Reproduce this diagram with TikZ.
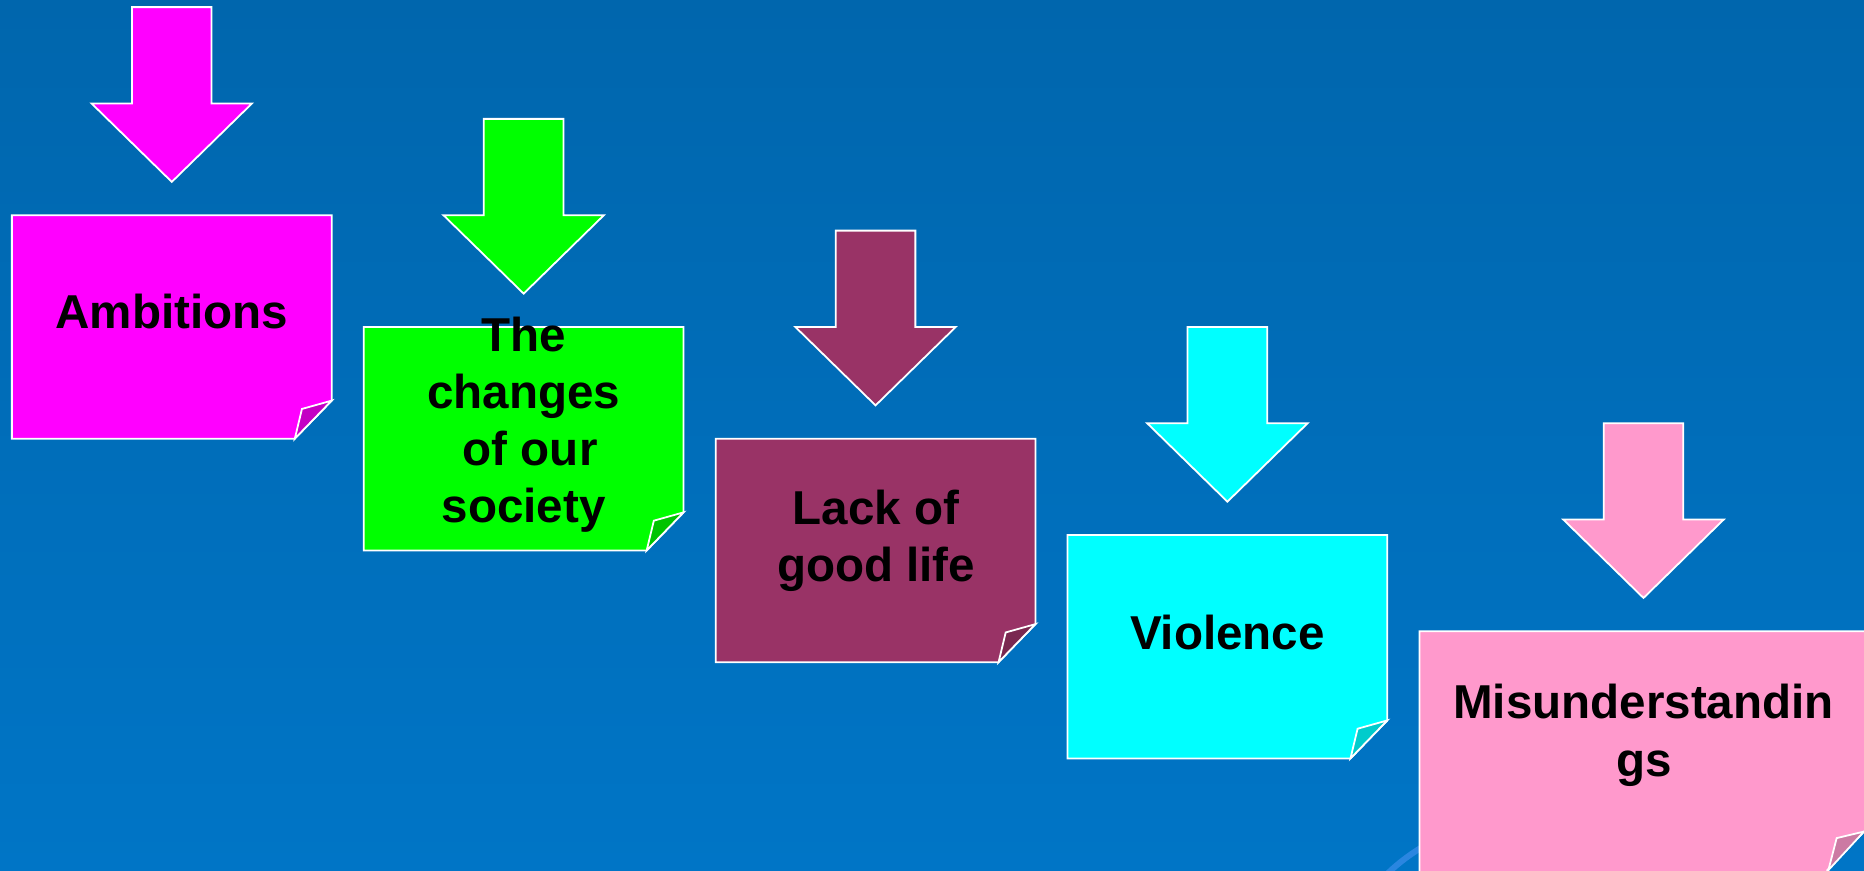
\documentclass[tikz,border=0pt]{standalone}
\usepackage{fontspec}
\setmainfont{Liberation Sans}
\definecolor{bgtop}{HTML}{0066AD}
\definecolor{bgbot}{HTML}{0075C6}
\definecolor{swirlc}{HTML}{2A86E0}
\definecolor{cmag}{HTML}{FF00FF}
\definecolor{cmagd}{HTML}{C400C4}
\definecolor{cgrn}{HTML}{00FF00}
\definecolor{cgrnd}{HTML}{00C400}
\definecolor{cmar}{HTML}{993366}
\definecolor{cmard}{HTML}{7A2850}
\definecolor{ccya}{HTML}{00FFFF}
\definecolor{ccyad}{HTML}{00CCCC}
\definecolor{cpnk}{HTML}{FF99CC}
\definecolor{cpnkd}{HTML}{CC7AA3}
\tikzset{
  outl/.style={draw=white, line width=1.5pt, line join=miter},
  lbl/.style={anchor=base, inner sep=0pt, font=\bfseries\fontsize{40}{48}\selectfont, text=black},
}
% down arrow: centre x, top y, fill
\newcommand\dnarrow[3]{%
  \path[outl, fill=#3] (#1-33.5,#2) -- (#1+33.5,#2) -- (#1+33.5,#2+81) -- (#1+67.5,#2+81)
    -- (#1,#2+147) -- (#1-67.5,#2+81) -- (#1-33.5,#2+81) -- cycle;}
% note: x0, y0, x1, y1, fill, fold fill
\newcommand\stickynote[6]{%
  \path[outl, fill=#5] (#1,#2) -- (#3,#2) -- (#3,#4-32) -- (#3-31,#4) -- (#1,#4) -- cycle;
  \path[outl, fill=#6] (#3,#4-32) -- (#3-25,#4-25) -- (#3-31,#4) -- cycle;}
\begin{document}
\begin{tikzpicture}[x=1pt,y=-1pt]
\useasboundingbox (0,0) rectangle (1568,732);
\shade[top color=bgtop, bottom color=bgbot] (0,0) rectangle (1568,732);
\draw[swirlc, line width=5pt] (1166,736) .. controls (1176,726) and (1188,717) .. (1204,708);

\dnarrow{144.5}{6}{cmag}
\stickynote{10}{181}{279}{369}{cmag}{cmagd}
\node[lbl] (t1) at (144.5,276) {Ambitions};

\dnarrow{440.5}{100}{cgrn}
\stickynote{306}{275}{575}{463}{cgrn}{cgrnd}
\node[lbl] (t2a) at (440.5,296) {The};
\node[lbl] (t2b) at (440.5,343.5) {changes};
\node[lbl] (t2c) at (446,391.5) {of our};
\node[lbl] (t2d) at (440.5,439.5) {society};

\dnarrow{736.5}{194}{cmar}
\stickynote{602}{369}{871}{557}{cmar}{cmard}
\node[lbl] (t3a) at (737,441) {Lack of};
\node[lbl] (t3b) at (737,489) {good life};

\dnarrow{1032.5}{275}{ccya}
\stickynote{898}{450}{1167}{638}{ccya}{ccyad}
\node[lbl] (t4) at (1032.5,546) {Violence};

\dnarrow{1382.5}{356}{cpnk}
% pink note runs off the right and bottom edges
\path[outl, fill=cpnk] (1194,736) -- (1194,531) -- (1572,531) -- (1572,699.5) -- (1568,699.5) -- (1537,732) -- (1537,736) -- cycle;
\path[outl, fill=cpnkd] (1568,699.5) -- (1545,705) -- (1538,732) -- cycle;
\node[lbl] (t5a) at (1382.5,604) {Misunderstandin};
\node[lbl] (t5b) at (1383,653) {gs};
\end{tikzpicture}
\end{document}
